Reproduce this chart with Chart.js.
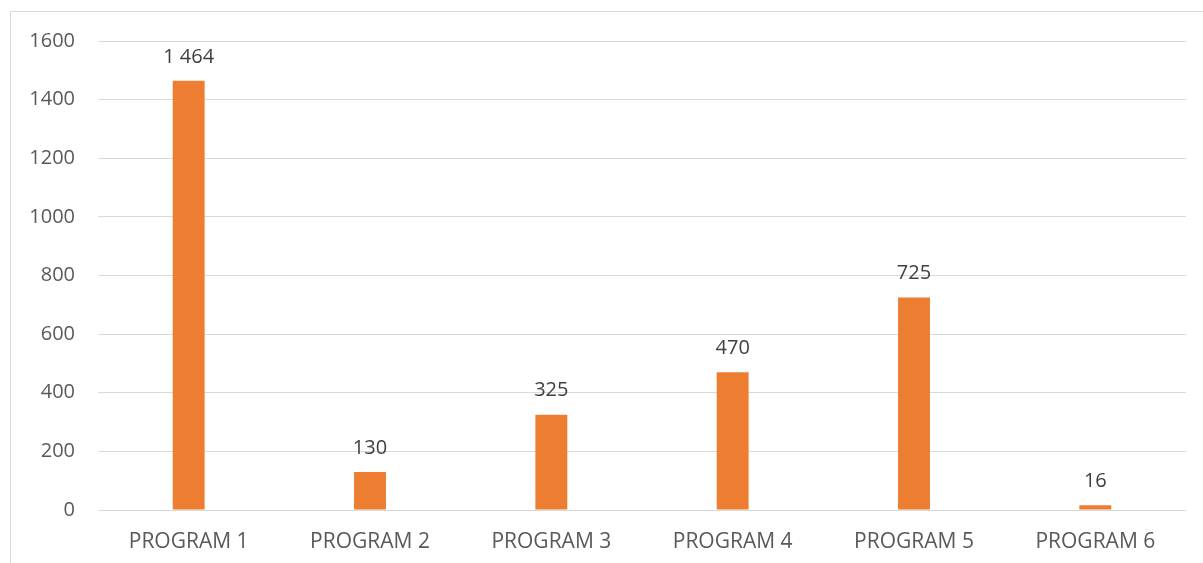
<!DOCTYPE html>
<html lang="en">
<head>
    <meta charset="UTF-8">
    <title>Programs</title>
    <script src="https://cdn.jsdelivr.net/npm/chart.js"></script>
    <style>
        html, body {
            margin: 0;
            padding: 0;
            background: #fff;
            overflow: hidden;
        }

        .frame {
            position: absolute;
            left: 10px;
            top: 11px;
            width: 1210px;
            height: 580px;
            border: 1px solid #d9d9d9;
        }

        .chart-container {
            position: absolute;
            left: 0;
            top: 0;
            width: 1203px;
            height: 563px;
        }
    </style>
</head>
<body>
    <div class="frame"></div>
    <div class="chart-container">
        <canvas id="programChart"></canvas>
    </div>

    <script>
        // Data
        const categories = ['PROGRAM 1', 'PROGRAM 2', 'PROGRAM 3', 'PROGRAM 4', 'PROGRAM 5', 'PROGRAM 6'];
        const values = [1464, 130, 325, 470, 725, 16];
        const yTicks = [0, 200, 400, 600, 800, 1000, 1200, 1400, 1600];

        // thousands separated with a space, like "1 464"
        function formatValue(v) {
            return String(v).replace(/\B(?=(\d{3})+(?!\d))/g, ' ');
        }

        // Value labels above the bars
        const barLabels = {
            id: 'barLabels',
            afterDatasetsDraw(chart) {
                const ctx = chart.ctx;
                ctx.save();
                ctx.font = '20px "Open Sans", sans-serif';
                ctx.fillStyle = '#404040';
                ctx.textAlign = 'center';
                ctx.textBaseline = 'bottom';
                chart.getDatasetMeta(0).data.forEach((bar, i) => {
                    ctx.fillText(formatValue(values[i]), bar.x, bar.y - 14);
                });
                ctx.restore();
            }
        };

        const ctx = document.getElementById('programChart').getContext('2d');
        new Chart(ctx, {
            type: 'bar',
            data: {
                labels: categories,
                datasets: [{
                    data: values,
                    backgroundColor: '#ED7D31',
                    borderWidth: 0,
                    categoryPercentage: 1,
                    barPercentage: 0.176
                }]
            },
            options: {
                responsive: true,
                maintainAspectRatio: false,
                animation: false,
                layout: {
                    padding: { top: 41, right: 17, left: 0, bottom: 0 }
                },
                plugins: {
                    legend: { display: false },
                    tooltip: { enabled: false }
                },
                scales: {
                    x: {
                        grid: { display: false },
                        border: { display: false },
                        ticks: {
                            color: '#595959',
                            font: { family: '"Open Sans", sans-serif', size: 21 },
                            padding: 11
                        },
                        afterFit(scale) { scale.height = 53; }
                    },
                    y: {
                        min: 0,
                        max: 1600,
                        afterBuildTicks(scale) {
                            scale.ticks = yTicks.map(v => ({ value: v }));
                        },
                        grid: { color: '#d9d9d9', lineWidth: 1, drawTicks: false },
                        border: { display: false },
                        ticks: {
                            color: '#595959',
                            font: { family: '"Open Sans", sans-serif', size: 20 },
                            padding: 23,
                            callback: v => String(v)
                        },
                        afterFit(scale) { scale.width = 98; }
                    }
                }
            },
            plugins: [barLabels]
        });
    </script>
</body>
</html>
